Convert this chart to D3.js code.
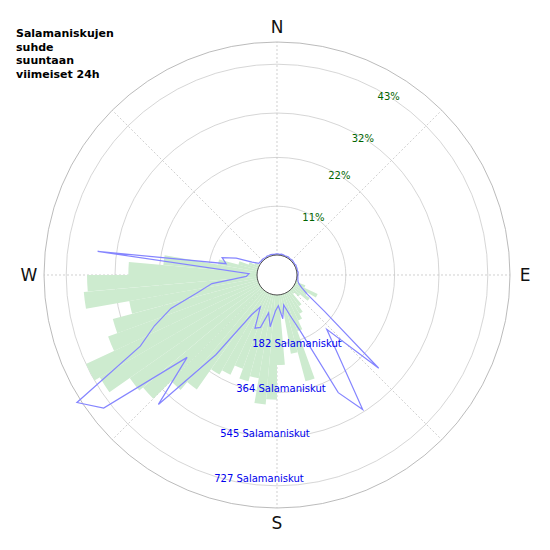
<!DOCTYPE html>
<html><head><meta charset="utf-8">
<script src="https://cdn.jsdelivr.net/npm/d3@7"></script>
<style>body{margin:0;background:#fff}</style>
</head><body>
<div id="chart"></div>
<script>
// 5 degree bins, starting at north, clockwise
var binAngles = d3.range(0, 360, 5);
var percents = [0,0,0,0,0,0,0,0,0,0,0,0,0,0,0,0,0,0,0,0,0,0.5,2.3,5.6,3.4,4.5,2.3,1.1,4.1,5.6,6.8,9,20.3,13.5,4.5,15.8,23.6,24.8,19.1,20.3,18,20.3,21.4,27,29.3,34.9,36,41.6,43,36,33.8,29.3,39.2,38.3,29,21.2,9,4.5,2.3,1.1,0,0,0,0,0,0,0,0,0,0,0,0];
var counts = [4,3,5,4,3,4,5,3,4,5,4,3,5,4,4,3,5,4,3,4,5,8,15,30,60,150,440,200,300,520,420,150,80,40,90,40,60,120,70,130,140,60,100,300,580,380,740,810,500,420,340,230,170,40,30,600,120,140,90,30,6,5,4,5,4,3,5,4,5,4,3,4];
var pctTicks = [11, 22, 32, 43];
var countTicks = [182, 364, 545, 727];
var compass = ["N", "E", "S", "W"];
var titleLines = ["Salamaniskujen", "suhde", "suuntaan", "viimeiset 24h"];

var W = 550, H = 550, cx = 277, cy = 275, r0 = 20, r1 = 233;
var svg = d3.select("#chart").append("svg").attr("width", W).attr("height", H)
  .style("font-family", "DejaVu Sans, sans-serif");
var g = svg.append("g").attr("transform", "translate(" + cx + "," + cy + ")");

var rP = d3.scaleLinear().domain([0, 48]).range([r0, r1]);
var rC = d3.scaleLinear().domain([0, 48 * 182 / 11]).range([r0, r1]);
var rad = function(d) { return d * Math.PI / 180; };

// grid
g.selectAll(".ring").data(pctTicks).enter().append("circle")
  .attr("r", function(d) { return rP(d); })
  .attr("fill", "none").attr("stroke", "#ccc").attr("stroke-width", 0.8);
g.append("circle").attr("r", r1).attr("fill", "none").attr("stroke", "#aaa").attr("stroke-width", 0.8);
g.selectAll(".spoke").data(d3.range(0, 360, 45)).enter().append("line")
  .attr("x1", function(d) { return r0 * Math.sin(rad(d)); })
  .attr("y1", function(d) { return -r0 * Math.cos(rad(d)); })
  .attr("x2", function(d) { return r1 * Math.sin(rad(d)); })
  .attr("y2", function(d) { return -r1 * Math.cos(rad(d)); })
  .attr("stroke", "#bbb").attr("stroke-width", 0.7).attr("stroke-dasharray", "2,2");

// bars
var arc = d3.arc().innerRadius(r0)
  .outerRadius(function(d) { return rP(d.v); })
  .startAngle(function(d) { return rad(d.a); })
  .endAngle(function(d) { return rad(d.a + 5); });
g.selectAll(".bar").data(binAngles.map(function(a, i) { return {a: a, v: percents[i]}; })
    .filter(function(d) { return d.v > 0; }))
  .enter().append("path").attr("d", arc).attr("fill", "#cdebcf");

// counts line
var line = d3.lineRadial().curve(d3.curveLinearClosed)
  .angle(function(d, i) { return rad(binAngles[i] + 2.5); })
  .radius(function(d) { return rC(d); });
g.append("path").attr("d", line(counts)).attr("fill", "none")
  .attr("stroke", "#8585ff").attr("stroke-width", 1.2);

// hole
g.append("circle").attr("r", r0).attr("fill", "#fff").attr("stroke", "#222").attr("stroke-width", 0.8);

// labels
g.selectAll(".pl").data(pctTicks).enter().append("text")
  .attr("x", function(d) { return rP(d) * Math.sin(rad(32)); })
  .attr("y", function(d) { return -rP(d) * Math.cos(rad(32)) + 4; })
  .attr("text-anchor", "middle").attr("font-size", 10).attr("fill", "#006400")
  .text(function(d) { return d + "%"; });
g.selectAll(".cl").data(countTicks).enter().append("text")
  .attr("x", function(d, i) { return [20, 4, -12, -18][i]; })
  .attr("y", function(d, i) { return rC(d) + 3 - 3.5 * i; })
  .attr("text-anchor", "middle").attr("font-size", 10).attr("fill", "#0000ee")
  .text(function(d) { return d + " Salamaniskut"; });
var lr = 248;
g.selectAll(".cmp").data(compass).enter().append("text")
  .attr("x", function(d, i) { return lr * Math.sin(rad(i * 90)); })
  .attr("y", function(d, i) { return -lr * Math.cos(rad(i * 90)) + 6; })
  .attr("text-anchor", "middle").attr("font-size", 17).attr("fill", "#111")
  .text(function(d) { return d; });

svg.append("text").attr("x", 16).attr("y", 37).attr("font-size", 11).attr("font-weight", "bold")
  .selectAll("tspan").data(titleLines).enter().append("tspan")
  .attr("x", 16).attr("dy", function(d, i) { return i ? 13.5 : 0; })
  .text(function(d) { return d; });
</script>
</body></html>
